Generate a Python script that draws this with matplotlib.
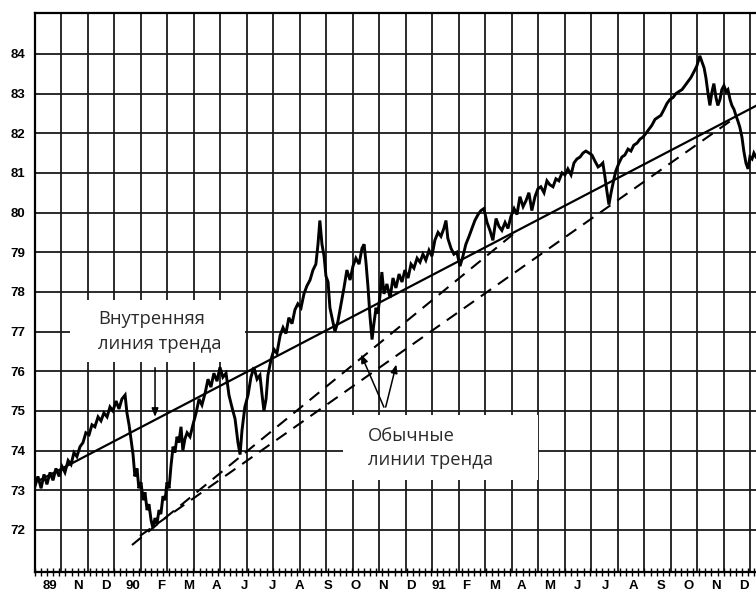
import matplotlib
matplotlib.use("Agg")
import matplotlib.pyplot as plt
from matplotlib.patches import Rectangle
from matplotlib.ticker import MultipleLocator, FixedLocator, NullFormatter

# time in months since start of Oct 1989
months = [0.00, 0.11, 0.23, 0.34, 0.45, 0.57, 0.68, 0.79, 0.91, 1.02, 1.13, 1.25, 1.36, 1.47, 1.58, 1.70,
          1.81, 1.92, 2.04, 2.15, 2.26, 2.38, 2.49, 2.60, 2.72, 2.83, 2.94, 3.06, 3.17, 3.28, 3.40, 3.47,
          3.55, 3.70, 3.77, 3.85, 3.92, 4.00, 4.08, 4.15, 4.23, 4.30, 4.38, 4.45, 4.53, 4.60, 4.68, 4.75,
          4.83, 4.91, 4.98, 5.06, 5.13, 5.21, 5.28, 5.36, 5.43, 5.51, 5.58, 5.66, 5.74, 5.85, 5.96, 6.08,
          6.19, 6.30, 6.42, 6.53, 6.64, 6.75, 6.87, 6.98, 7.09, 7.21, 7.32, 7.43, 7.55, 7.66, 7.74, 7.81,
          7.92, 8.04, 8.15, 8.26, 8.38, 8.49, 8.57, 8.64, 8.72, 8.79, 8.91, 9.02, 9.13, 9.25, 9.36, 9.47,
          9.58, 9.70, 9.81, 9.92, 10.04, 10.15, 10.26, 10.38, 10.49, 10.60, 10.68, 10.75, 10.83, 10.91, 10.98, 11.06,
          11.13, 11.21, 11.32, 11.43, 11.55, 11.66, 11.77, 11.89, 12.00, 12.11, 12.23, 12.34, 12.42, 12.49, 12.57, 12.64,
          12.72, 12.79, 12.87, 12.94, 13.02, 13.09, 13.17, 13.28, 13.40, 13.51, 13.62, 13.74, 13.85, 13.96, 14.08, 14.19,
          14.30, 14.42, 14.53, 14.64, 14.75, 14.87, 14.98, 15.09, 15.21, 15.32, 15.43, 15.51, 15.58, 15.70, 15.81, 15.92,
          16.04, 16.15, 16.26, 16.38, 16.49, 16.60, 16.72, 16.83, 16.94, 17.06, 17.17, 17.28, 17.40, 17.51, 17.62, 17.74,
          17.85, 17.96, 18.08, 18.19, 18.30, 18.42, 18.53, 18.64, 18.75, 18.87, 18.98, 19.09, 19.21, 19.32, 19.43, 19.55,
          19.66, 19.77, 19.89, 20.00, 20.11, 20.23, 20.34, 20.45, 20.57, 20.68, 20.79, 20.91, 21.02, 21.13, 21.25, 21.36,
          21.43, 21.51, 21.58, 21.66, 21.74, 21.85, 21.92, 22.04, 22.15, 22.26, 22.38, 22.49, 22.60, 22.72, 22.83, 22.94,
          23.06, 23.17, 23.28, 23.40, 23.51, 23.62, 23.74, 23.85, 23.96, 24.08, 24.19, 24.30, 24.42, 24.53, 24.64, 24.75,
          24.87, 24.98, 25.09, 25.17, 25.25, 25.32, 25.40, 25.47, 25.55, 25.62, 25.70, 25.77, 25.85, 25.92, 26.00, 26.08,
          26.15, 26.23, 26.30, 26.38, 26.45, 26.53, 26.60, 26.68, 26.75, 26.83, 26.91, 26.98, 27.06, 27.13, 27.21]
price = [73.10, 73.35, 73.05, 73.40, 73.15, 73.45, 73.25, 73.55, 73.35, 73.60, 73.45, 73.75, 73.65, 73.95, 73.85, 74.10,
         74.20, 74.45, 74.40, 74.65, 74.60, 74.85, 74.75, 74.95, 74.85, 75.10, 75.00, 75.25, 75.05, 75.30, 75.40, 74.95,
         74.65, 73.90, 73.35, 73.55, 73.05, 73.20, 72.75, 72.95, 72.50, 72.65, 72.25, 72.05, 72.30, 72.15, 72.50, 72.40,
         72.85, 72.75, 73.20, 73.05, 73.60, 74.10, 73.95, 74.35, 74.20, 74.60, 74.00, 74.30, 74.45, 74.35, 74.65, 74.95,
         75.30, 75.15, 75.45, 75.80, 75.60, 75.95, 75.75, 76.10, 75.85, 75.95, 75.40, 75.10, 74.80, 74.20, 73.90, 74.50,
         75.10, 75.40, 75.85, 76.10, 75.80, 75.90, 75.40, 75.00, 75.30, 75.90, 76.30, 76.55, 76.45, 76.90, 77.10, 76.95,
         77.35, 77.20, 77.55, 77.70, 77.60, 77.95, 78.15, 78.30, 78.55, 78.70, 79.20, 79.80, 79.20, 78.90, 78.40, 78.25,
         77.60, 77.35, 77.00, 77.25, 77.70, 78.10, 78.55, 78.30, 78.65, 78.85, 78.70, 79.10, 79.20, 78.75, 78.10, 77.40,
         76.80, 77.20, 77.60, 77.45, 77.90, 78.50, 77.95, 78.20, 77.85, 78.35, 78.10, 78.45, 78.25, 78.55, 78.35, 78.70,
         78.60, 78.85, 78.75, 78.95, 78.80, 79.05, 78.90, 79.30, 79.50, 79.40, 79.60, 79.80, 79.35, 79.10, 78.95, 79.00,
         78.65, 78.90, 79.20, 79.40, 79.60, 79.80, 79.95, 80.05, 80.10, 79.75, 79.55, 79.30, 79.85, 79.65, 79.55, 79.75,
         79.60, 79.90, 80.10, 79.95, 80.40, 80.15, 80.30, 80.50, 80.05, 80.40, 80.60, 80.65, 80.50, 80.80, 80.70, 80.65,
         80.85, 80.80, 81.00, 80.95, 81.10, 80.95, 81.25, 81.35, 81.40, 81.50, 81.55, 81.50, 81.45, 81.30, 81.15, 81.20,
         81.25, 80.90, 80.55, 80.20, 80.50, 80.85, 81.05, 81.25, 81.40, 81.45, 81.60, 81.55, 81.70, 81.75, 81.85, 81.90,
         82.00, 82.10, 82.20, 82.35, 82.40, 82.45, 82.60, 82.75, 82.85, 82.90, 83.00, 83.05, 83.10, 83.20, 83.30, 83.40,
         83.55, 83.70, 83.95, 83.80, 83.65, 83.40, 83.00, 82.70, 83.05, 83.25, 82.90, 82.70, 82.85, 83.10, 83.20, 83.05,
         83.10, 82.85, 82.70, 82.60, 82.45, 82.30, 82.15, 81.90, 81.55, 81.25, 81.10, 81.40, 81.35, 81.50, 81.40]

y_ticks = list(range(72, 85))
month_lines = list(range(1, 28))
x_labels = ["89", "N", "D", "90", "F", "M", "A", "J", "J", "A", "S", "O", "N", "D",
            "91", "F", "M", "A", "M", "J", "J", "A", "S", "O", "N", "D"]

inner_trend_x = [0.19, 27.21]
inner_trend_y = [73.26, 82.69]
trend1_x = [3.66, 18.11]
trend1_y = [71.62, 79.49]
trend2_x = [3.96, 26.42]
trend2_y = [71.85, 82.39]

inner_label = "Внутренняя\nлиния тренда"
usual_label = "Обычные\nлинии тренда"

W, H = 756, 595
fig = plt.figure(figsize=(W / 100, H / 100), dpi=100)
ax = fig.add_axes([35 / W, 1 - 572 / H, 1 - 35 / W, (572 - 13) / H])
ax.set_xlim(0, 27.21)
ax.set_ylim(70.94, 85.03)

grid_kw = dict(color="#1a1a1a", lw=1.3, zorder=1)
for m in month_lines:
    ax.axvline(m, **grid_kw)
for v in y_ticks:
    ax.axhline(v, **grid_kw)

# white boxes behind annotation text
ax.add_patch(Rectangle((1.32, 76.24), 6.6, 1.56, facecolor="white", edgecolor="none", zorder=2))
ax.add_patch(Rectangle((11.62, 73.26), 7.36, 1.64, facecolor="white", edgecolor="none", zorder=2))

ax.plot(months, price, color="black", lw=2.1, zorder=4, solid_joinstyle="miter")
ax.plot(inner_trend_x, inner_trend_y, color="black", lw=1.6, zorder=3)
ax.plot(trend1_x, trend1_y, color="black", lw=1.5, dashes=(6, 4), zorder=3)
ax.plot(trend2_x, trend2_y, color="black", lw=1.5, dashes=(6, 4), zorder=3)

txt_kw = dict(family="Open Sans", fontsize=13.2, color="#2a2a2a", ha="left", va="center",
              linespacing=1.45, zorder=5)
ax.text(2.38, 77.0, inner_label, **txt_kw)
ax.text(12.57, 74.06, usual_label, **txt_kw)

arrow_kw = dict(arrowstyle="-|>,head_length=0.5,head_width=0.2", color="black", lw=1.1)
ax.annotate("", xy=(4.53, 74.78), xytext=(4.53, 76.16), arrowprops=arrow_kw, zorder=5)
ax.annotate("", xy=(12.26, 76.49), xytext=(13.21, 75.03), arrowprops=arrow_kw, zorder=5)
ax.annotate("", xy=(13.66, 76.24), xytext=(13.21, 75.03), arrowprops=arrow_kw, zorder=5)

for side in ["left", "top", "bottom"]:
    ax.spines[side].set_linewidth(1.6)
    ax.spines[side].set_color("black")
ax.spines["right"].set_visible(False)

ax.yaxis.set_major_locator(FixedLocator(y_ticks))
ax.set_yticklabels([str(v) for v in y_ticks])
ax.tick_params(axis="y", length=0, pad=7, labelsize=9.5)

label_pos = [0.57 + i * 1.0475 for i in range(len(x_labels))]
ax.xaxis.set_major_locator(FixedLocator(label_pos))
ax.set_xticklabels(x_labels)
ax.xaxis.set_minor_locator(MultipleLocator(0.23))
ax.xaxis.set_minor_formatter(NullFormatter())
ax.tick_params(axis="x", which="major", length=0, pad=6, labelsize=9.5)
ax.tick_params(axis="x", which="minor", direction="inout", length=6, width=1.0)
for lab in ax.get_xticklabels() + ax.get_yticklabels():
    lab.set_family("Liberation Sans")
    lab.set_fontweight("bold")

fig.savefig("out.png", dpi=100)
